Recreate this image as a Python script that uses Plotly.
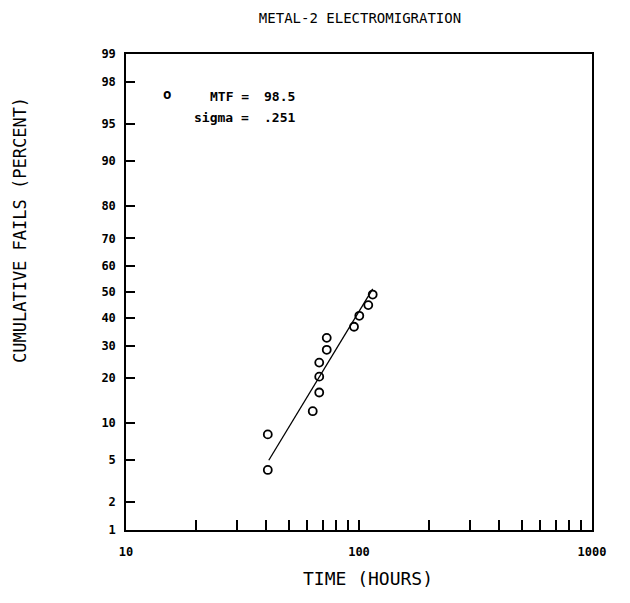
import plotly.graph_objects as go
from statistics import NormalDist

# ---- data ----
fail_time_hours = [40.6, 40.6, 63.3, 67.5, 67.5, 67.5, 72.7, 72.7, 95.2, 100.3, 109.6, 114.5]
fail_percent = [4.1, 8.2, 12.2, 16.3, 20.4, 24.5, 28.6, 32.7, 36.7, 40.8, 44.9, 49.0]
fit_time_hours = [41.0, 114.5]
fit_percent = [5.0, 51.2]
y_tick_percent = [1, 2, 5, 10, 20, 30, 40, 50, 60, 70, 80, 90, 95, 98, 99]
x_tick_values = [10, 20, 30, 40, 50, 60, 70, 80, 90, 100,
                 200, 300, 400, 500, 600, 700, 800, 900, 1000]
x_tick_labels = ["10", "", "", "", "", "", "", "", "", "100",
                 "", "", "", "", "", "", "", "", "1000"]
mtf_value = "98.5"
sigma_value = ".251"

nd = NormalDist()
def probit(p):
    return nd.inv_cdf(p / 100.0)

MONO = "DejaVu Sans Mono"

fig = go.Figure()
fig.add_trace(go.Scatter(
    x=fit_time_hours, y=[probit(p) for p in fit_percent],
    mode="lines", line=dict(color="black", width=1.3),
    showlegend=False, hoverinfo="skip"))
fig.add_trace(go.Scatter(
    x=fail_time_hours, y=[probit(p) for p in fail_percent],
    mode="markers",
    marker=dict(symbol="circle-open", size=8, color="black", line=dict(width=1.8)),
    showlegend=False))

L, R, T, B = 126, 38, 54, 73
W, H = 630, 603
pw, ph = W - L - R, H - T - B

def px(xp):
    return (xp - L) / pw
def py(yp):
    return (H - B - yp) / ph

fig.update_layout(
    width=W, height=H,
    margin=dict(l=L, r=R, t=T, b=B),
    paper_bgcolor="white", plot_bgcolor="white",
    title=dict(text="METAL-2 ELECTROMIGRATION", x=(360) / W, xanchor="center",
               y=1 - 18 / H, yanchor="middle",
               font=dict(family=MONO, size=14, color="black")),
    xaxis=dict(type="log", range=[1, 3], tickvals=x_tick_values, ticktext=x_tick_labels,
               ticks="inside", ticklen=10, tickwidth=1.5, tickcolor="black",
               showgrid=False, zeroline=False, showline=True, linecolor="black",
               linewidth=1.5, mirror=True,
               tickfont=dict(family=MONO, size=12, color="black", weight="bold"),
               ticklabelstandoff=10),
    yaxis=dict(range=[probit(1), probit(99)],
               tickvals=[probit(p) for p in y_tick_percent],
               ticktext=[str(p) for p in y_tick_percent],
               ticks="inside", ticklen=9, tickwidth=1.5, tickcolor="black",
               showgrid=False, zeroline=False, showline=True, linecolor="black",
               linewidth=1.5, mirror=True,
               tickfont=dict(family=MONO, size=12, color="black", weight="bold"),
               ticklabelstandoff=6),
)

ann_font = dict(family=MONO, size=13, color="black", weight="bold")
anns = [
    dict(text="o", x=px(167), y=py(94), xanchor="center", yanchor="middle",
         font=dict(family=MONO, size=14, color="black", weight="bold")),
    dict(text="MTF =", x=px(251), y=py(96), xanchor="right", yanchor="middle", font=ann_font),
    dict(text=mtf_value, x=px(262), y=py(96), xanchor="left", yanchor="middle", font=ann_font),
    dict(text="sigma =", x=px(251), y=py(118), xanchor="right", yanchor="middle", font=ann_font),
    dict(text=sigma_value, x=px(262), y=py(118), xanchor="left", yanchor="middle", font=ann_font),
]
for a in anns:
    fig.add_annotation(xref="paper", yref="paper", showarrow=False, **a)

fig.add_annotation(text="TIME (HOURS)", xref="paper", yref="paper",
                   x=px(368), y=py(578), xanchor="center", yanchor="middle",
                   showarrow=False, font=dict(family=MONO, size=18, color="black"))
fig.add_annotation(text="CUMULATIVE FAILS (PERCENT)", xref="paper", yref="paper",
                   x=px(20), y=py(230), xanchor="center", yanchor="middle",
                   textangle=-90, showarrow=False,
                   font=dict(family=MONO, size=17, color="black"))

fig.write_html("out.html")
